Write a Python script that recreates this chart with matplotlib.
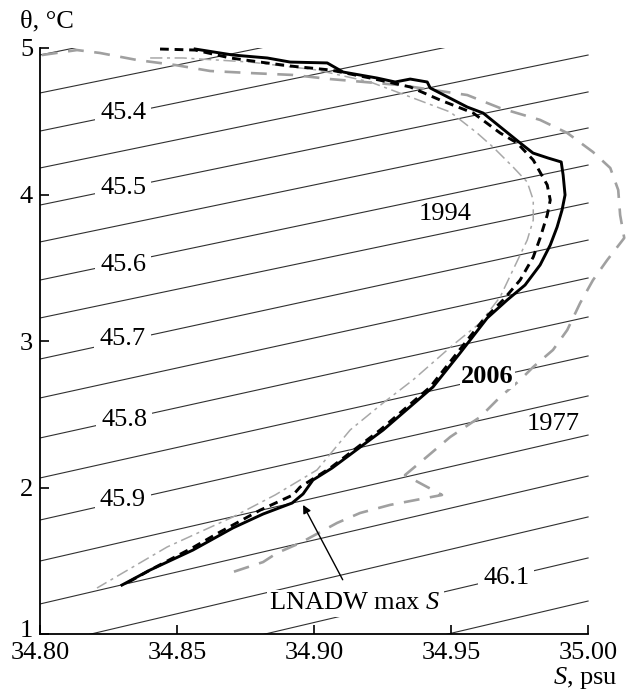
import matplotlib
matplotlib.use("Agg")
import matplotlib.pyplot as plt
import matplotlib.transforms as mtransforms
import numpy as np

plt.rcParams['font.family'] = ['Liberation Serif', 'DejaVu Serif']
plt.rcParams['mathtext.fontset'] = 'custom'
plt.rcParams['mathtext.rm'] = 'Liberation Serif'
plt.rcParams['mathtext.it'] = 'Liberation Serif:italic'

FS = 19

# isopycnals (sigma-4): theta at S = 34.80 and at S = 35.00
sigma_levels = [45.30, 45.35, 45.40, 45.45, 45.50, 45.55, 45.60, 45.65, 45.70,
                45.75, 45.80, 45.85, 45.90, 45.95, 46.00, 46.05, 46.10, 46.15]
sigma_theta_left = [4.952, 4.693, 4.433, 4.181, 3.928, 3.676, 3.416, 3.157, 2.877,
                    2.611, 2.338, 2.065, 1.778, 1.498, 1.205, 0.918, 0.638, 0.345]
sigma_theta_right = [5.720, 5.457, 5.205, 4.952, 4.700, 4.454, 4.201, 3.942, 3.689,
                     3.430, 3.164, 2.898, 2.625, 2.358, 2.078, 1.799, 1.519, 1.225]
sigma_s_ends = [34.80, 35.00]

label_sigmas = ['45.4', '45.5', '45.6', '45.7', '45.8', '45.9', '46.1']
label_s = [34.8303, 34.8303, 34.8303, 34.8300, 34.8307, 34.8303, 34.9701]
label_t = [4.555, 4.044, 3.519, 3.014, 2.461, 1.915, 1.382]

# 2006 (black solid)
s_2006 = [34.8566, 34.8704, 34.8829, 34.8913, 34.9048, 34.9106, 34.9230, 34.9296,
          34.9351, 34.9413, 34.9424, 34.9559, 34.9617, 34.9752, 34.9799, 34.9854,
          34.9902, 34.9909, 34.9916, 34.9905, 34.9887, 34.9862, 34.9825, 34.9770,
          34.9705, 34.9632, 34.9533, 34.9434, 34.9252, 34.9066, 34.8996, 34.8960,
          34.8920, 34.8814, 34.8704, 34.8558, 34.8402, 34.8299]
t_2006 = [4.993, 4.952, 4.932, 4.904, 4.898, 4.836, 4.795, 4.768,
          4.788, 4.768, 4.727, 4.597, 4.556, 4.352, 4.283, 4.249,
          4.222, 4.133, 3.997, 3.894, 3.778, 3.655, 3.519, 3.382,
          3.280, 3.157, 2.918, 2.686, 2.392, 2.133, 2.051, 1.956,
          1.894, 1.819, 1.724, 1.573, 1.437, 1.334]

# unlabelled black dashed profile
s_dash = [34.8438, 34.8566, 34.8694, 34.8803, 34.8913, 34.9059, 34.9205, 34.9351,
          34.9460, 34.9581, 34.9679, 34.9741, 34.9800, 34.9851, 34.9862, 34.9851,
          34.9825, 34.9800, 34.9752, 34.9690, 34.9617, 34.9522, 34.9424, 34.9241,
          34.9059, 34.8949, 34.8924, 34.8803, 34.8650, 34.8558, 34.8402, 34.8310]
t_dash = [4.993, 4.986, 4.932, 4.904, 4.877, 4.850, 4.795, 4.734,
          4.645, 4.556, 4.420, 4.352, 4.235, 4.065, 3.962, 3.860,
          3.703, 3.573, 3.416, 3.280, 3.143, 2.918, 2.686, 2.392,
          2.133, 2.003, 1.950, 1.845, 1.689, 1.590, 1.437, 1.341]

# 1994 (grey dash-dot)
s_1994 = [34.8402, 34.8522, 34.8767, 34.9011, 34.9205, 34.9351, 34.9497, 34.9595,
          34.9653, 34.9726, 34.9778, 34.9800, 34.9800, 34.9778, 34.9726, 34.9679,
          34.9606, 34.9507, 34.9361, 34.9252, 34.9132, 34.9011, 34.8858, 34.8704,
          34.8464, 34.8208]
t_1994 = [4.932, 4.932, 4.904, 4.850, 4.768, 4.666, 4.563, 4.420,
          4.324, 4.188, 4.085, 3.962, 3.826, 3.689, 3.485, 3.300,
          3.123, 2.973, 2.734, 2.577, 2.393, 2.120, 1.949, 1.799,
          1.594, 1.314]

# 1977 (grey long dashes)
s_1977 = [34.8007, 34.8135, 34.8219, 34.8354, 34.8493, 34.8621, 34.8767, 34.8923,
          34.9059, 34.9314, 34.9559, 34.9679, 34.9825, 34.9924, 35.0018, 35.0081,
          35.0110, 35.0117, 35.0132, 35.0070, 35.0018, 34.9971, 34.9924, 34.9872,
          34.9800, 34.9752, 34.9679, 34.9606, 34.9497, 34.9398, 34.9332, 34.9467,
          34.9277, 34.9168, 34.9084, 34.8949, 34.8865, 34.8814, 34.8704]
t_1977 = [4.952, 4.986, 4.966, 4.918, 4.884, 4.843, 4.829, 4.816,
          4.788, 4.747, 4.679, 4.590, 4.509, 4.420, 4.290, 4.181,
          4.031, 3.860, 3.703, 3.553, 3.416, 3.259, 3.075, 2.939,
          2.823, 2.734, 2.618, 2.481, 2.345, 2.188, 2.085, 1.949,
          1.881, 1.826, 1.758, 1.621, 1.553, 1.491, 1.423]

x_ticks = [34.80, 34.85, 34.90, 34.95, 35.00]
y_ticks = [1, 2, 3, 4, 5]

fig = plt.figure(figsize=(6.3, 6.92), dpi=100)
ax = fig.add_axes([40 / 630, 58 / 692, 590 / 630, 586 / 692])
ax.set_xlim(34.80, 35.0153)
ax.set_ylim(1, 5)

for tl, tr in zip(sigma_theta_left, sigma_theta_right):
    ax.plot(sigma_s_ends, [tl, tr], color='#303030', lw=0.8, zorder=1)

for txt, s, t in zip(label_sigmas, label_s, label_t):
    ax.text(s, t, txt, fontsize=FS, ha='center', va='center', zorder=2,
            bbox=dict(boxstyle='square,pad=0.2', fc='white', ec='none'))

ax.plot(s_1977, t_1977, color='#a0a0a0', lw=1.9, dashes=(6, 4), zorder=3, clip_on=False)
ax.plot(s_1994, t_1994, color='#a8a8a8', lw=1.1, dashes=(8, 3, 2, 3), zorder=3, clip_on=False)
ax.plot(s_dash, t_dash, color='black', lw=2.1, dashes=(3, 2), zorder=4, clip_on=False)
ax.plot(s_2006, t_2006, color='black', lw=2.1, zorder=5, clip_on=False)

ax.text(34.9478, 3.867, '1994', fontsize=FS, ha='center', va='center', zorder=6)
ax.text(34.9632, 2.761, '2006', fontsize=FS, fontweight='bold', ha='center', va='center',
        zorder=6, bbox=dict(boxstyle='square,pad=0.05', fc='white', ec='none'))
ax.text(34.9872, 2.433, '1977', fontsize=FS, ha='center', va='center', zorder=6)

ax.annotate('LNADW max $S$', xy=(34.896, 1.881), xytext=(34.915, 1.21),
            fontsize=FS, ha='center', va='center', zorder=6,
            bbox=dict(boxstyle='square,pad=0.1', fc='white', ec='none'),
            arrowprops=dict(arrowstyle='-|>', color='black', lw=1.0,
                            mutation_scale=12, shrinkA=8, shrinkB=0))

for side in ['top', 'right']:
    ax.spines[side].set_visible(False)
ax.spines['left'].set_bounds(1, 5)
ax.spines['bottom'].set_bounds(34.80, 35.00)
for side in ['left', 'bottom']:
    ax.spines[side].set_linewidth(1.3)

ax.set_xticks(x_ticks)
ax.set_xticklabels(['%.2f' % v for v in x_ticks])
ax.set_yticks(y_ticks)
ax.tick_params(direction='in', length=6.5, width=1.2, labelsize=FS)
ax.tick_params(axis='x', pad=6)
ax.tick_params(axis='y', pad=5)

# lift the "1" label a little, as in the original, so it clears "34.80"
lift = mtransforms.ScaledTranslation(0, 4 / 72, fig.dpi_scale_trans)
first = ax.get_yticklabels()[0]
first.set_transform(first.get_transform() + lift)
first.set_verticalalignment('center_baseline')

fig.text(20 / 630, 1 - 21 / 692, 'θ, °C', fontsize=FS, ha='left', va='center')
fig.text(618 / 630, 1 - 678 / 692, '$S$, psu', fontsize=FS, ha='right', va='center')

fig.savefig('out.png', dpi=100)
